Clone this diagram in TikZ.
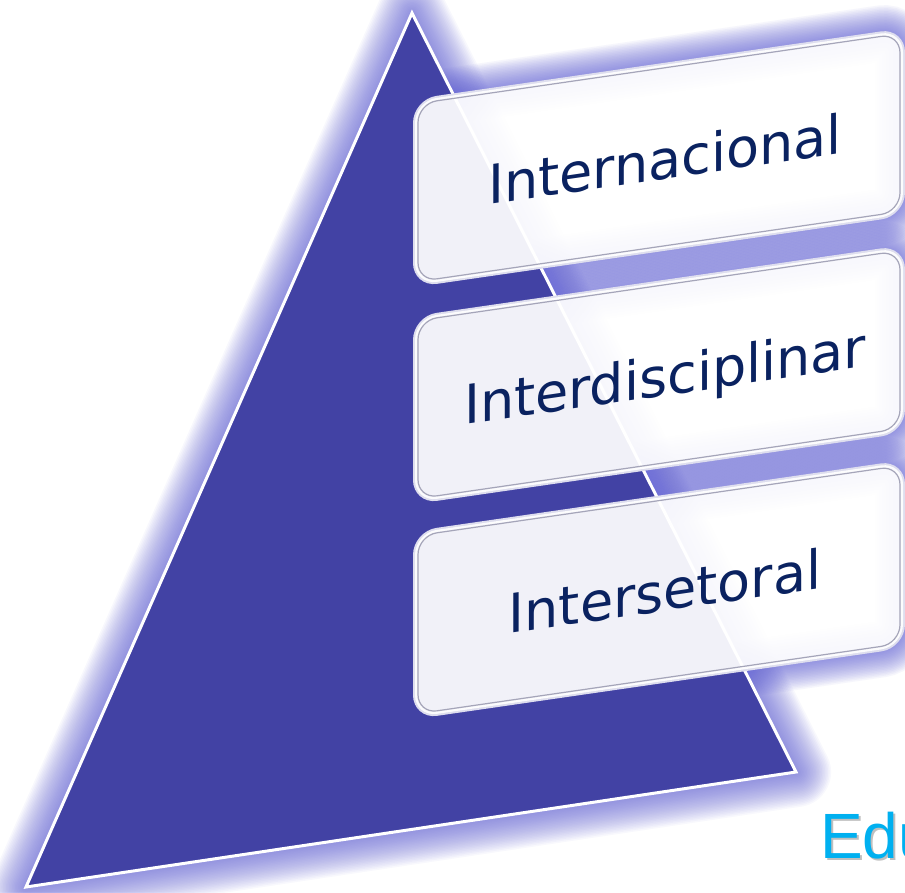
\documentclass[tikz,border=0pt]{standalone}
\usepackage{fontspec}
\newfontfamily\boxfont{DejaVu Sans}
\newfontfamily\edufont{Liberation Sans}
\definecolor{tri}{RGB}{66,66,164}
\definecolor{glow}{RGB}{100,100,215}
\definecolor{navy}{RGB}{10,34,96}
\definecolor{rim}{RGB}{222,222,238}
\definecolor{edgec}{RGB}{165,165,185}
\definecolor{cyanb}{RGB}{0,176,240}
\tikzset{
  boxtext/.style={transform shape, anchor=base, inner sep=0pt, text=navy,
    font=\boxfont\fontsize{54}{60}\selectfont},
  boxshape/.style={rounded corners=22pt},
}
\begin{document}
\begin{tikzpicture}[x=1pt,y=1pt]
\useasboundingbox (0,0) rectangle (905,-892);
\clip (0,0) rectangle (905,-892);
\fill[white] (0,0) rectangle (905,-892);
\coordinate (A) at (412,-13);
\coordinate (B) at (26,-887);
\coordinate (C) at (796,-772);
% triangle glow
\foreach \w in {70,67,...,4}
  \draw[glow, line width=\w pt, opacity=0.045, line join=round] (A)--(B)--(C)--cycle;
% box glows
\foreach \t in {101,318,533}{
  \begin{scope}[shift={(415,-\t)}, yslant=0.145]
    \foreach \w in {56,53,...,5}
      \draw[glow, line width=\w pt, opacity=0.055, boxshape] (0,0) rectangle (488,-184);
  \end{scope}
}
% triangle
\fill[tri] (A)--(B)--(C)--cycle;
\draw[white, line width=3pt, line join=miter] (A)--(B)--(C)--cycle;
% boxes
\foreach \t/\n/\s in {101/t1/Internacional,318/t2/Interdisciplinar,533/t3/Intersetoral}{
  \begin{scope}[shift={(415,-\t)}, yslant=0.145]
    \draw[rim, line width=4pt, boxshape] (0,0) rectangle (488,-184);
    \fill[white, opacity=0.93, boxshape] (0,0) rectangle (488,-184);
    \draw[edgec, line width=1.2pt, rounded corners=19pt] (3,-3) rectangle (485,-181);
    \node[boxtext] (\n) at (250,-114) {\s};
  \end{scope}
}
% Edu
\node[anchor=base west, inner sep=0pt, text=black!50, opacity=0.5,
  font=\edufont\fontsize{64}{70}\selectfont] (edush) at (822,-860) {Edu};
\node[anchor=base west, inner sep=0pt, text=cyanb,
  font=\edufont\fontsize{64}{70}\selectfont] (edu) at (820,-858) {Edu};
\end{tikzpicture}
\end{document}
